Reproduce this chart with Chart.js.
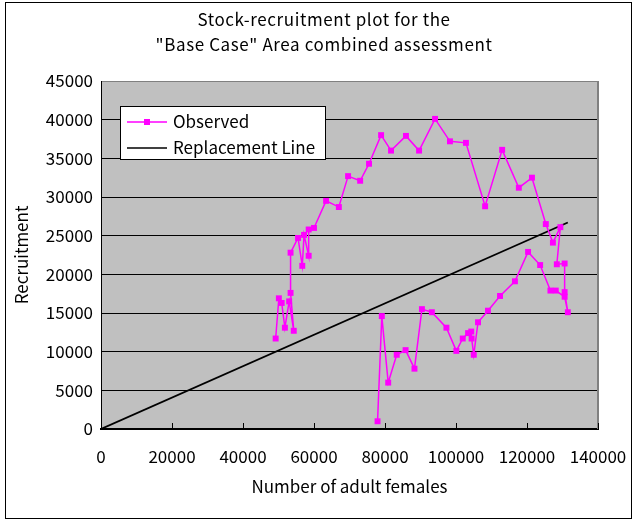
<!DOCTYPE html>
<html><head><meta charset="utf-8">
<script src="https://cdn.jsdelivr.net/npm/chart.js@4"></script>
<style>html,body{margin:0;padding:0;background:#fff}canvas{display:block}</style>
</head><body>
<canvas id="c" width="635" height="520"></canvas>
<script>
const titleLines = ['Stock-recruitment plot for the', '"Base Case" Area combined assessment'];
const xTitle = 'Number of adult females';
const yTitle = 'Recruitment';
const seriesNames = ['Observed', 'Replacement Line'];

const females = [49200, 50100, 50900, 51800, 53000, 54300, 53400, 53400, 55500, 56700, 57200, 58500, 58500, 60000,
  63400, 67000, 69600, 73000, 75500, 78900, 81700, 85900, 89600, 94100, 98300, 102800, 108200, 113000, 117700, 121400,
  125300, 127300, 129400, 128400, 130600, 130600, 131500, 130600, 128100, 126600, 123700, 120300, 116600, 112400, 109000,
  106200, 105000, 104400, 104300, 103400, 101900, 100100, 97300, 93200, 90400, 88300, 85800, 83300, 80900, 79100, 77900];
const recruits = [11700, 16900, 16300, 13100, 16500, 12700, 17600, 22800, 24700, 21100, 25100, 22400, 25800, 26000,
  29500, 28700, 32700, 32100, 34300, 38000, 36000, 37900, 36000, 40100, 37200, 37000, 28800, 36100, 31200, 32500,
  26500, 24100, 26100, 21300, 21400, 17700, 15100, 17100, 17900, 17900, 21200, 22900, 19100, 17200, 15300,
  13800, 9600, 11700, 12600, 12400, 11700, 10100, 13100, 15100, 15500, 7800, 10200, 9600, 6000, 14600, 1000];
const replX = [0, 131500];
const replY = [0, 26700];

const xTicks = [0, 20000, 40000, 60000, 80000, 100000, 120000, 140000];
const yTicks = [0, 5000, 10000, 15000, 20000, 25000, 30000, 35000, 40000, 45000];

const FONT = "'Noto Sans CJK JP', 'DejaVu Sans', sans-serif";
const MAGENTA = '#FF00FF';

const decor = {
  id: 'decor',
  beforeDraw(chart) {
    const {ctx, chartArea: a} = chart;
    ctx.save();
    ctx.fillStyle = '#fff';
    ctx.fillRect(0, 0, chart.width, chart.height);
    ctx.fillStyle = '#C0C0C0';
    ctx.fillRect(a.left, a.top, a.right - a.left, a.bottom - a.top);
    ctx.restore();
  },
  afterDraw(chart) {
    const {ctx, chartArea: a, scales} = chart;
    ctx.save();
    ctx.strokeStyle = '#808080';
    ctx.lineWidth = 2;
    ctx.beginPath();
    ctx.moveTo(a.right, a.top);
    ctx.lineTo(a.right, a.bottom);
    ctx.stroke();
    ctx.strokeStyle = '#000';
    ctx.lineWidth = 1;
    xTicks.forEach(v => {
      const px = Math.round(scales.x.getPixelForValue(v)) + 0.5;
      ctx.beginPath();
      ctx.moveTo(px, a.bottom);
      ctx.lineTo(px, a.bottom - 6);
      ctx.stroke();
    });
    ctx.fillStyle = '#000';
    ctx.font = '17px ' + FONT;
    ctx.letterSpacing = '0.6px';
    ctx.textAlign = 'center';
    ctx.textBaseline = 'middle';
    ctx.fillText(titleLines[0], 324, 20);
    ctx.fillText(titleLines[1], 324, 45);
    ctx.letterSpacing = '0px';
    const lx = 120.5, ly = 106.5, lw = 205, lh = 53;
    ctx.fillStyle = '#fff';
    ctx.fillRect(lx, ly, lw, lh);
    ctx.strokeStyle = '#000';
    ctx.lineWidth = 1;
    ctx.strokeRect(lx, ly, lw, lh);
    ctx.strokeStyle = MAGENTA;
    ctx.lineWidth = 1.5;
    ctx.beginPath(); ctx.moveTo(127, 122); ctx.lineTo(167, 122); ctx.stroke();
    ctx.fillStyle = MAGENTA;
    ctx.fillRect(144, 119, 6, 6);
    ctx.strokeStyle = '#000';
    ctx.lineWidth = 1.5;
    ctx.beginPath(); ctx.moveTo(127, 148); ctx.lineTo(167, 148); ctx.stroke();
    ctx.fillStyle = '#000';
    ctx.font = '17px ' + FONT;
    ctx.textAlign = 'left';
    ctx.fillText(seriesNames[0], 173, 122);
    ctx.fillText(seriesNames[1], 173, 148);
    ctx.strokeStyle = '#000';
    ctx.lineWidth = 1;
    ctx.strokeRect(5.5, 2.5, 626, 516);
    ctx.restore();
  }
};

new Chart(document.getElementById('c'), {
  type: 'scatter',
  data: {
    datasets: [
      {
        label: seriesNames[0],
        data: females.map((x, i) => ({x, y: recruits[i]})),
        showLine: true,
        borderColor: MAGENTA,
        backgroundColor: MAGENTA,
        borderWidth: 1.5,
        pointStyle: 'rect',
        pointRadius: 4.2,
        pointBorderWidth: 0,
        tension: 0
      },
      {
        label: seriesNames[1],
        data: replX.map((x, i) => ({x, y: replY[i]})),
        showLine: true,
        borderColor: '#000',
        borderWidth: 1.8,
        pointRadius: 0,
        tension: 0
      }
    ]
  },
  options: {
    responsive: false,
    animation: false,
    layout: {padding: {left: 0, right: 37, top: 81, bottom: 0}},
    plugins: {legend: {display: false}, tooltip: {enabled: false}, title: {display: false}},
    scales: {
      x: {
        type: 'linear', min: 0, max: 140000,
        afterBuildTicks: s => { s.ticks = xTicks.map(v => ({value: v})); },
        afterFit: s => { s.height = 91; s.paddingLeft = 0; s.paddingRight = 0; },
        grid: {display: false, drawTicks: false},
        border: {display: true, color: '#000', width: 2},
        ticks: {color: '#000', font: {family: FONT, size: 17}, padding: 17, maxRotation: 0, autoSkip: false,
          callback: v => String(v)},
        title: {display: true, text: xTitle, color: '#000', font: {family: FONT, size: 17}, padding: {top: 0, bottom: 23}}
      },
      y: {
        type: 'linear', min: 0, max: 45000,
        afterBuildTicks: s => { s.ticks = yTicks.map(v => ({value: v})); },
        afterFit: s => { s.width = 101; s.paddingTop = 0; s.paddingBottom = 0; },
        grid: {color: ctx => (ctx.tick && ctx.tick.value === 45000) ? '#808080' : '#000', lineWidth: 1, drawTicks: false},
        border: {display: true, color: '#000', width: 1},
        ticks: {color: '#000', font: {family: FONT, size: 17}, padding: 8, autoSkip: false,
          callback: v => String(v)},
        title: {display: true, text: yTitle, color: '#000', font: {family: FONT, size: 17}, padding: {top: 11, bottom: 0}}
      }
    }
  },
  plugins: [decor]
});
</script></body></html>
